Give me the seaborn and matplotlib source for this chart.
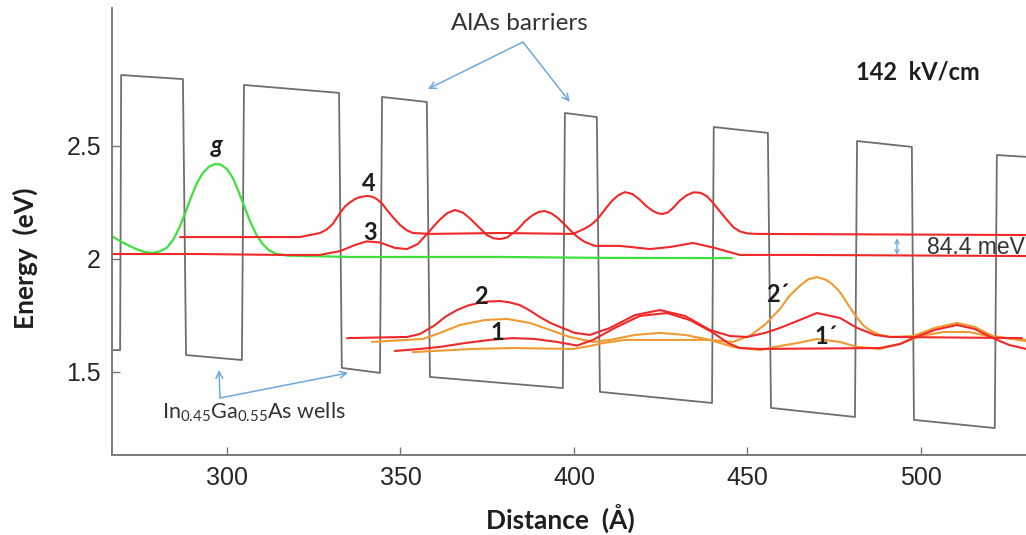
import matplotlib
matplotlib.use("Agg")
import matplotlib.pyplot as plt
from matplotlib import font_manager
import seaborn as sns
import pandas as pd

# ---------------- data (distance in Å, energy in eV) ----------------
profile_distance = [267.1, 269.2, 269.5, 287.3, 288.2, 304.3, 304.9, 332.3, 333.1, 344.1,
                    344.7, 357.6, 358.5, 396.8, 397.4, 406.6, 407.5, 439.8, 440.3, 455.9,
                    456.8, 481.0, 481.6, 497.4, 498.0, 521.3, 521.9, 531.4]
profile_energy = [1.597, 1.597, 2.814, 2.796, 1.575, 1.553, 2.770, 2.735, 1.518, 1.496,
                  2.717, 2.695, 1.478, 1.429, 2.646, 2.628, 1.412, 1.363, 2.584, 2.558,
                  1.341, 1.301, 2.522, 2.496, 1.288, 1.252, 2.460, 2.451]

g_distance = [266.3, 269.7, 273.5, 276.0, 278.4, 280.5, 282.7, 284.5, 286.3, 288.0, 289.7,
              291.3, 293.0, 294.8, 296.5, 298.2, 300.0, 301.7, 303.3, 305.0, 306.7, 308.4,
              310.2, 312.0, 314.0, 317.3, 335.4, 378.7, 407.5, 445.5]
g_energy = [2.106, 2.075, 2.046, 2.032, 2.027, 2.033, 2.050, 2.085, 2.140, 2.205, 2.275,
            2.335, 2.380, 2.408, 2.420, 2.418, 2.398, 2.358, 2.300, 2.232, 2.165, 2.110,
            2.068, 2.040, 2.024, 2.015, 2.009, 2.009, 2.005, 2.004]

s3_distance = [266.3, 292.2, 315.3, 326.8, 332.6, 336.9, 340.3, 344.1, 348.4, 351.9, 355.0,
               357.9, 359.6, 361.4, 363.5, 365.7, 368.0, 370.0, 372.5, 374.9, 376.8, 378.7,
               380.7, 383.6, 386.0, 388.2, 390.0, 391.6, 393.5, 395.4, 397.5, 399.7, 401.5,
               403.2, 406.1, 413.3, 421.9, 427.7, 434.3, 440.6, 447.8, 465.1, 530.3]
s3_energy = [2.022, 2.022, 2.018, 2.018, 2.035, 2.062, 2.078, 2.073, 2.049, 2.044, 2.066,
             2.115, 2.145, 2.175, 2.203, 2.217, 2.205, 2.180, 2.142, 2.106, 2.092, 2.088,
             2.095, 2.128, 2.168, 2.195, 2.209, 2.212, 2.202, 2.181, 2.150, 2.115, 2.092,
             2.075, 2.058, 2.058, 2.044, 2.053, 2.071, 2.049, 2.018, 2.018, 2.013]

s4_distance = [286.5, 321.0, 326.8, 328.7, 330.5, 332.6, 334.0, 335.4, 336.9, 338.3, 340.3,
               341.8, 343.2, 344.7, 346.1, 348.0, 349.9, 351.7, 353.6, 358.5, 378.7, 399.7,
               403.2, 405.0, 406.6, 408.0, 409.5, 411.0, 412.8, 414.7, 416.8, 419.0, 420.8,
               422.5, 424.0, 425.4, 427.0, 428.5, 430.5, 432.5, 434.5, 436.5, 438.3, 440.0,
               442.0, 444.1, 446.0, 447.8, 450.0, 452.7, 530.3]
s4_energy = [2.097, 2.097, 2.115, 2.130, 2.155, 2.204, 2.232, 2.250, 2.265, 2.274, 2.279,
             2.276, 2.265, 2.245, 2.217, 2.182, 2.150, 2.128, 2.115, 2.111, 2.115, 2.111,
             2.135, 2.152, 2.173, 2.200, 2.230, 2.258, 2.282, 2.296, 2.288, 2.262, 2.235,
             2.215, 2.203, 2.199, 2.205, 2.225, 2.258, 2.282, 2.295, 2.293, 2.278, 2.250,
             2.212, 2.173, 2.140, 2.122, 2.113, 2.111, 2.106]

s2_distance = [334.6, 351.9, 355.6, 360.0, 363.0, 366.3, 369.3, 372.3, 375.5, 378.7, 381.5,
               384.4, 387.3, 390.2, 393.1, 396.0, 400.3, 404.6, 410.4, 417.6, 424.8, 432.0,
               439.2, 445.0, 449.9, 455.1, 459.4, 465.1, 470.0, 476.7, 481.6, 486.7, 491.1,
               529.1]
s2_energy = [1.650, 1.655, 1.668, 1.708, 1.745, 1.774, 1.793, 1.805, 1.812, 1.814, 1.808,
             1.796, 1.772, 1.743, 1.718, 1.699, 1.673, 1.664, 1.695, 1.752, 1.774, 1.748,
             1.686, 1.659, 1.655, 1.673, 1.695, 1.730, 1.761, 1.739, 1.695, 1.664, 1.655,
             1.650]

s1_distance = [348.4, 355.6, 361.4, 368.6, 375.8, 382.4, 388.8, 395.1, 400.9, 405.5, 411.8,
               419.0, 426.8, 433.4, 439.8, 444.4, 447.8, 453.6, 488.2, 494.0, 497.7, 504.0,
               510.4, 515.6, 520.7, 525.6, 530.3]
s1_energy = [1.593, 1.602, 1.611, 1.628, 1.642, 1.650, 1.646, 1.633, 1.617, 1.642, 1.695,
             1.748, 1.761, 1.730, 1.677, 1.628, 1.606, 1.602, 1.606, 1.624, 1.650, 1.686,
             1.708, 1.690, 1.650, 1.619, 1.602]

s2p_distance = [341.8, 356.5, 361.4, 367.1, 374.4, 380.7, 387.3, 393.1, 398.8, 405.5, 410.4,
                417.6, 424.8, 432.0, 439.2, 445.8, 450.7, 455.1, 459.4, 462.0, 465.1, 467.5,
                470.0, 472.3, 474.4, 476.5, 478.1, 480.0, 481.6, 483.5, 485.3, 488.0, 491.1,
                497.7, 504.0, 510.4, 515.6, 520.7, 530.3]
s2p_energy = [1.633, 1.646, 1.673, 1.708, 1.730, 1.735, 1.717, 1.686, 1.655, 1.633, 1.642,
              1.664, 1.673, 1.664, 1.642, 1.633, 1.660, 1.710, 1.779, 1.835, 1.881, 1.910,
              1.920, 1.910, 1.890, 1.857, 1.820, 1.775, 1.740, 1.705, 1.685, 1.665, 1.655,
              1.659, 1.695, 1.717, 1.699, 1.659, 1.637]

s1p_distance = [353.6, 370.9, 382.4, 399.7, 404.6, 408.4, 414.7, 430.5, 439.2, 445.8, 453.6,
                459.4, 465.1, 470.0, 476.7, 481.6, 488.2, 494.0, 499.8, 506.6, 513.8, 520.7, 530.3]
s1p_energy = [1.588, 1.602, 1.606, 1.602, 1.615, 1.628, 1.642, 1.642, 1.642, 1.611, 1.597,
              1.615, 1.630, 1.646, 1.633, 1.611, 1.602, 1.624, 1.659, 1.677, 1.677, 1.655, 1.642]

x_ticks = [300, 350, 400, 450, 500]
y_ticks = [1.5, 2.0, 2.5]
y_tick_labels = ["1.5", "2", "2.5"]

# ---------------- style ----------------
sns.set_theme(style="white")
avail = {f.name for f in font_manager.fontManager.ttflist}
label_font = "Lato" if "Lato" in avail else "DejaVu Sans"
tick_font = "Liberation Sans" if "Liberation Sans" in avail else "DejaVu Sans"
plt.rcParams["font.family"] = [tick_font, "DejaVu Sans"]
plt.rcParams["mathtext.fontset"] = "custom"
plt.rcParams["mathtext.rm"] = label_font
plt.rcParams["mathtext.it"] = label_font + ":italic"
plt.rcParams["mathtext.bf"] = label_font + ":bold"

GRAY = "#6e6e6e"
RED = "#f02828"
ORANGE = "#ef9a30"
GREEN = "#3ee03e"
BLUE = "#6fa8dc"
TXT = "#1e1e1e"

fig = plt.figure(figsize=(10.26, 5.35), dpi=100)
ax = fig.add_axes([112 / 1026, 1 - 455 / 535, 1 - 112 / 1026, (455 - 8) / 535])

def draw(xs, ys, color, lw):
    df = pd.DataFrame({"Distance": xs, "Energy": ys})
    sns.lineplot(data=df, x="Distance", y="Energy", sort=False, estimator=None,
                 color=color, linewidth=lw, ax=ax, solid_joinstyle="round")

draw(profile_distance, profile_energy, GRAY, 1.3)
draw(g_distance, g_energy, GREEN, 1.6)
draw(s2p_distance, s2p_energy, ORANGE, 1.5)
draw(s1p_distance, s1p_energy, ORANGE, 1.5)
draw(s3_distance, s3_energy, RED, 1.5)
draw(s4_distance, s4_energy, RED, 1.5)
draw(s2_distance, s2_energy, RED, 1.5)
draw(s1_distance, s1_energy, RED, 1.5)

ax.set_xlim(266.86, 530.3)
ax.set_ylim(1.1327, 3.1106)
ax.set_xticks(x_ticks)
ax.set_yticks(y_ticks)
ax.set_yticklabels(y_tick_labels)
ax.tick_params(direction="in", length=6, width=1, color="#7a7a7a", labelsize=18,
               labelcolor="#262626", pad=8, bottom=True, left=True)
for side in ["top", "right"]:
    ax.spines[side].set_visible(False)
for side in ["left", "bottom"]:
    ax.spines[side].set_color("#7a7a7a")
    ax.spines[side].set_linewidth(1.4)

ax.set_xlabel("Distance  (Å)", fontsize=19, fontweight="bold", family=label_font, color=TXT)
ax.set_ylabel("Energy  (eV)", fontsize=19, fontweight="bold", family=label_font, color=TXT)
ax.xaxis.set_label_coords((560 - 112) / 914, (455 - 519) / 447)
ax.yaxis.set_label_coords((25 - 112) / 914, (455 - 258) / 447)
ax.xaxis.label.set_va("center")
ax.yaxis.label.set_va("center")
ax.yaxis.label.set_ha("center")

# state labels
lab = dict(fontsize=17, fontweight="bold", family=label_font, color=TXT, ha="center", va="center")
ax.text(297.1, 2.50, "g", style="italic", **lab)
ax.text(340.9, 2.336, "4", **lab)
ax.text(341.2, 2.119, "3", **lab)
ax.text(373.2, 1.832, "2", **lab)
ax.text(377.8, 1.673, "1", **lab)
ax.text(458.8, 1.845, "2´", **lab)
ax.text(472.6, 1.655, "1´", **lab)

ax.text(499.0, 2.827, "142  kV/cm", fontsize=17, fontweight="bold", family=label_font,
        color=TXT, ha="center", va="center")

# 84.4 meV splitting
ax.annotate("", xy=(493.1, 2.092), xytext=(493.1, 2.018),
            arrowprops=dict(arrowstyle="<->", color=BLUE, lw=1.0, mutation_scale=7,
                            shrinkA=0, shrinkB=0))
ax.text(501.7, 2.053, "84.4 meV", fontsize=16.5, family=tick_font, color="#333333",
        ha="left", va="center")

# barrier annotation
arrow_kw = dict(arrowstyle="->", color=BLUE, lw=1.1, mutation_scale=12, shrinkA=0, shrinkB=0)
ax.text(384.4, 3.044, "AlAs barriers", fontsize=17.5, family=label_font, color="#333333",
        ha="center", va="center")
ax.annotate("", xy=(357.9, 2.752), xytext=(385.3, 2.960), arrowprops=arrow_kw)
ax.annotate("", xy=(398.8, 2.695), xytext=(385.3, 2.960), arrowprops=arrow_kw)

# wells annotation
ax.text(307.8, 1.323, r"In$_{\mathrm{0.45}}$Ga$_{\mathrm{0.55}}$As wells", fontsize=15.5,
        family=label_font, color="#333333", ha="center", va="center")
ax.annotate("", xy=(297.7, 1.509), xytext=(298.0, 1.385), arrowprops=arrow_kw)
ax.annotate("", xy=(334.9, 1.496), xytext=(298.0, 1.385), arrowprops=arrow_kw)

fig.savefig("out.png", dpi=100)
